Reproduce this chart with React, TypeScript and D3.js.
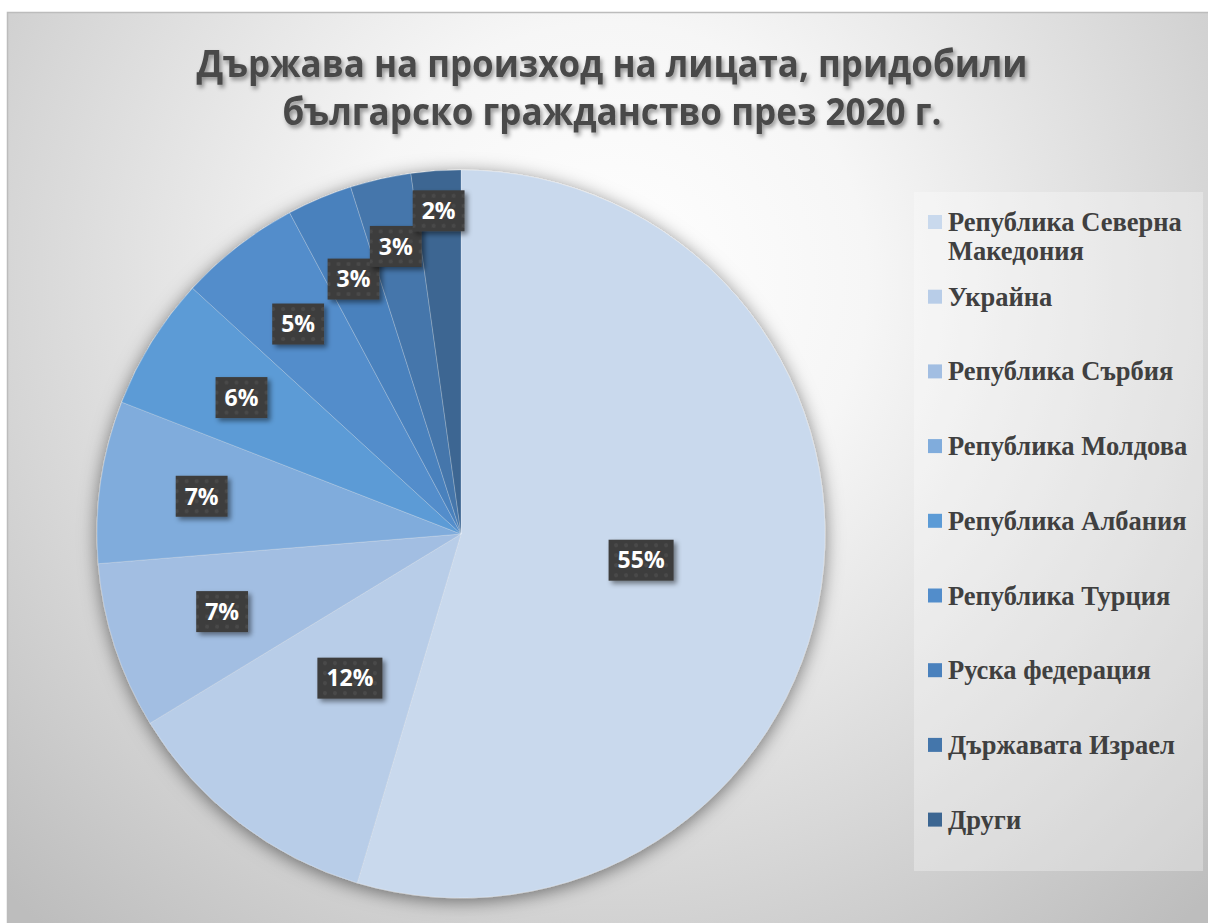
import { useRef, useEffect } from 'react'
import * as d3 from 'd3'

// shares of persons granted Bulgarian citizenship in 2020, by country of origin (%)
const countries = [
  'Република Северна Македония',
  'Украйна',
  'Република Сърбия',
  'Република Молдова',
  'Република Албания',
  'Република Турция',
  'Руска федерация',
  'Държавата Израел',
  'Други',
]
const shares = [54.6, 11.7, 7.4, 7.2, 5.9, 5.4, 2.9, 2.7, 2.2]
const sliceColors = [
  '#c9d9ed', '#b8cde8', '#a2bee2', '#80acdc', '#5c9bd6',
  '#528dcb', '#4a81bd', '#4476ab', '#3c6692',
]
const titleLines = [
  'Държава на произход на лицата, придобили',
  'българско гражданство през 2020 г.',
]

const W = 1208
const H = 923

export default function App() {
  const svgRef = useRef<SVGSVGElement>(null)

  useEffect(() => {
    if (!svgRef.current) return
    const svg = d3.select(svgRef.current)
    svg.selectAll('*').remove()

    const defs = svg.append('defs')

    const bg = defs.append('radialGradient')
      .attr('id', 'bg').attr('gradientUnits', 'userSpaceOnUse')
      .attr('cx', 610).attr('cy', 280).attr('r', 860)
    bg.append('stop').attr('offset', 0).attr('stop-color', '#ffffff')
    bg.append('stop').attr('offset', 0.3).attr('stop-color', '#f6f6f6')
    bg.append('stop').attr('offset', 0.7).attr('stop-color', '#d6d6d6')
    bg.append('stop').attr('offset', 1).attr('stop-color', '#bdbdbd')

    const pieShadow = defs.append('filter').attr('id', 'pieShadow')
      .attr('x', '-20%').attr('y', '-20%').attr('width', '140%').attr('height', '140%')
    pieShadow.append('feDropShadow')
      .attr('dx', 0).attr('dy', 3).attr('stdDeviation', 9)
      .attr('flood-color', '#000').attr('flood-opacity', 0.5)

    const boxShadow = defs.append('filter').attr('id', 'boxShadow')
      .attr('x', '-30%').attr('y', '-30%').attr('width', '160%').attr('height', '160%')
    boxShadow.append('feDropShadow')
      .attr('dx', 3).attr('dy', 3).attr('stdDeviation', 2.5)
      .attr('flood-color', '#000').attr('flood-opacity', 0.45)

    const titleShadow = defs.append('filter').attr('id', 'titleShadow')
      .attr('x', '-10%').attr('y', '-30%').attr('width', '120%').attr('height', '160%')
    titleShadow.append('feDropShadow')
      .attr('dx', 2).attr('dy', 3).attr('stdDeviation', 2)
      .attr('flood-color', '#000').attr('flood-opacity', 0.4)

    const dots = defs.append('pattern').attr('id', 'dots')
      .attr('patternUnits', 'userSpaceOnUse').attr('width', 10).attr('height', 10)
    dots.append('rect').attr('width', 10).attr('height', 10).attr('fill', '#3d3d3d')
    dots.append('circle').attr('cx', 5).attr('cy', 5).attr('r', 2)
      .attr('fill', '#4a4a4a')

    // chart area
    svg.append('rect').attr('width', W).attr('height', H).attr('fill', '#fff')
    svg.append('rect')
      .attr('x', 7.5).attr('y', 12.5).attr('width', W).attr('height', H)
      .attr('fill', 'url(#bg)').attr('stroke', '#bcbcbc').attr('stroke-width', 1.5)

    // title
    const title = svg.append('g').attr('filter', 'url(#titleShadow)')
    const titleWidths = [831, 659]
    titleLines.forEach((t, i) => {
      title.append('text')
        .attr('x', 612).attr('y', 77 + i * 48)
        .attr('text-anchor', 'middle')
        .attr('textLength', titleWidths[i]).attr('lengthAdjust', 'spacingAndGlyphs')
        .style('font-family', '"Open Sans", sans-serif')
        .style('font-weight', 700).style('font-size', '38px')
        .style('fill', '#4a4a4a')
        .text(t)
    })

    // pie
    const cx = 461
    const cy = 534
    const R = 364
    const pie = d3.pie<number>().sort(null).value(d => d)
    const arcs = pie(shares)
    const arc = d3.arc<d3.PieArcDatum<number>>().innerRadius(0).outerRadius(R)
    const total = d3.sum(shares)

    const g = svg.append('g').attr('transform', `translate(${cx},${cy})`)
    g.append('g').attr('filter', 'url(#pieShadow)')
      .selectAll('path')
      .data(arcs)
      .join('path')
      .attr('d', arc)
      .attr('fill', (_, i) => sliceColors[i])
      .attr('stroke', 'rgba(255,255,255,0.22)')
      .attr('stroke-width', 1)

    // data labels, pushed outwards for the thin slices (Excel best fit)
    const labelRadius = [0.5, 0.5, 0.69, 0.72, 0.71, 0.73, 0.76, 0.81, 0.89]
    arcs.forEach((a, i) => {
      const mid = (a.startAngle + a.endAngle) / 2
      const r = R * labelRadius[i]
      const x = Math.sin(mid) * r
      const y = -Math.cos(mid) * r
      const lg = g.append('g').attr('transform', `translate(${x},${y})`)
      const box = lg.append('rect').attr('filter', 'url(#boxShadow)')
      const txt = lg.append('text')
        .attr('text-anchor', 'middle').attr('dy', '0.36em')
        .style('font-family', '"Open Sans", sans-serif')
        .style('font-weight', 700).style('font-size', '23px')
        .style('fill', '#fff')
        .text(`${Math.round((a.data / total) * 100)}%`)
      const w = (txt.node() as SVGTextElement).getComputedTextLength() + 18
      box.attr('x', -w / 2).attr('y', -20.5).attr('width', w).attr('height', 41)
        .attr('fill', 'url(#dots)')
    })

    // legend
    svg.append('rect')
      .attr('x', 914).attr('y', 192).attr('width', 289).attr('height', 679)
      .attr('fill', '#fff').attr('opacity', 0.3)

    const legendX = 948
    const maxW = 1202 - legendX
    countries.forEach((name, i) => {
      const yc = 222 + i * 74.7
      svg.append('rect')
        .attr('x', 928).attr('y', yc - 7).attr('width', 14).attr('height', 14)
        .attr('fill', sliceColors[i])
      const t = svg.append('text')
        .attr('x', legendX).attr('y', yc + 9)
        .style('font-family', '"Liberation Serif", "Times New Roman", serif')
        .style('font-weight', 700).style('font-size', '26.5px')
        .style('fill', '#404040')
      // simple word wrap
      const words = name.split(' ')
      let line: string[] = []
      let tspan = t.append('tspan').attr('x', legendX).attr('dy', 0)
      words.forEach(wd => {
        line.push(wd)
        tspan.text(line.join(' '))
        if ((tspan.node() as SVGTSpanElement).getComputedTextLength() > maxW && line.length > 1) {
          line.pop()
          tspan.text(line.join(' '))
          line = [wd]
          tspan = t.append('tspan').attr('x', legendX).attr('dy', 29).text(wd)
        }
      })
    })
  }, [])

  return (
    <svg
      ref={svgRef}
      width={W}
      height={H}
      style={{ position: 'absolute', left: 0, top: 0 }}
    />
  )
}
